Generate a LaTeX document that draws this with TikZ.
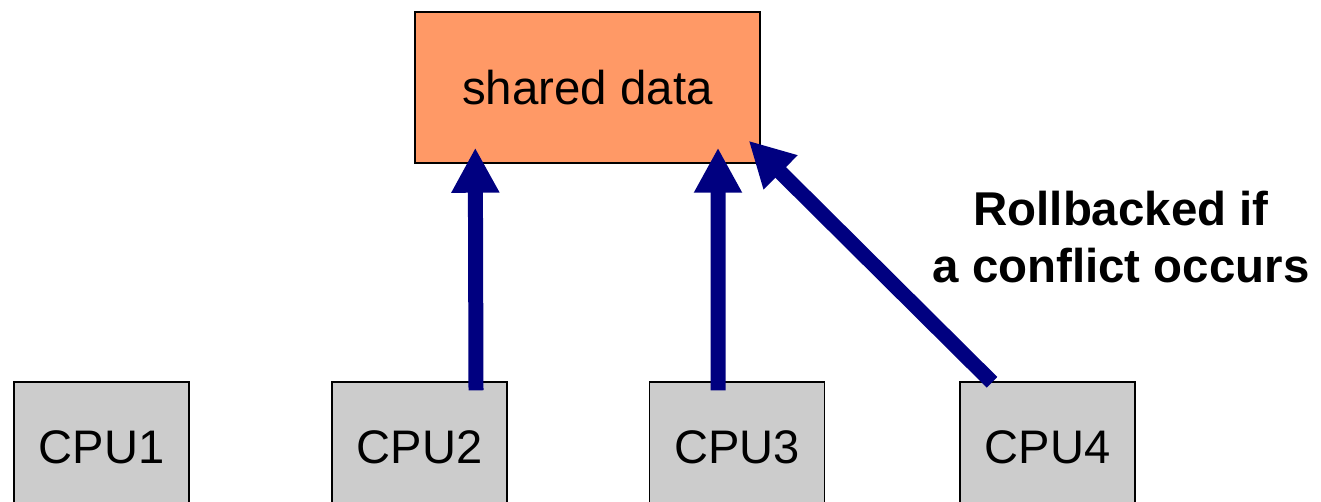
\documentclass[tikz,border=0pt]{standalone}
\usepackage{fontspec}
\setmainfont{Liberation Sans}
\usetikzlibrary{calc,arrows.meta}

\definecolor{datafill}{RGB}{255,153,102}
\definecolor{cpufill}{RGB}{204,204,204}
\definecolor{accessblue}{RGB}{0,0,128}

\tikzset{
	cpubox/.style={draw=black, line width=0.85pt, fill=cpufill, inner sep=0pt,
		minimum width=3.5cm, minimum height=2.6cm, font=\fontsize{26.8}{32}\selectfont},
	databox/.style={draw=black, line width=0.85pt, fill=datafill, inner sep=0pt,
		minimum width=6.9cm, minimum height=3.02cm, font=\fontsize{27}{32}\selectfont},
	notetext/.style={align=center, inner sep=0pt, font=\bfseries\fontsize{27}{32.3}\selectfont},
	access/.style={draw=accessblue, line width=0.3cm, -{Triangle[length=0.9cm,width=0.9cm]}},
}

\begin{document}
\begin{tikzpicture}[x=0.02cm, y=0.02cm]
			%%%%% START %%%%%
			\useasboundingbox (0, 0) rectangle (1321, 501);
			\clip (0, 0) rectangle (1321, 501);
			
			\node[databox] (data) at (587.5, 413.5) {shared data};
			
			\node[cpubox] (cpu1) at (101.5, 54) {CPU1};
			\node[cpubox] (cpu2) at (419.5, 54) {CPU2};
			\node[cpubox] (cpu3) at (737, 54) {CPU3};
			\node[cpubox] (cpu4) at (1047.5, 54) {CPU4};
			
			\draw[access] ($(cpu2.north)+(56.5,-9)$) -- ($(data.south west)+(61,16)$);
			\draw[access] ($(cpu3.north)+(-19,-9)$) -- ($(data.south)+(130.5,16)$);
			\draw[access] ($(cpu4.north)+(-55.5,-1)$) -- ($(data.south east)+(-12,23)$);
			
			\node[notetext] (note) at (1121, 264) {Rollbacked if\\a conflict occurs};
			
			%%%%% END %%%%%
\end{tikzpicture}
\end{document}
